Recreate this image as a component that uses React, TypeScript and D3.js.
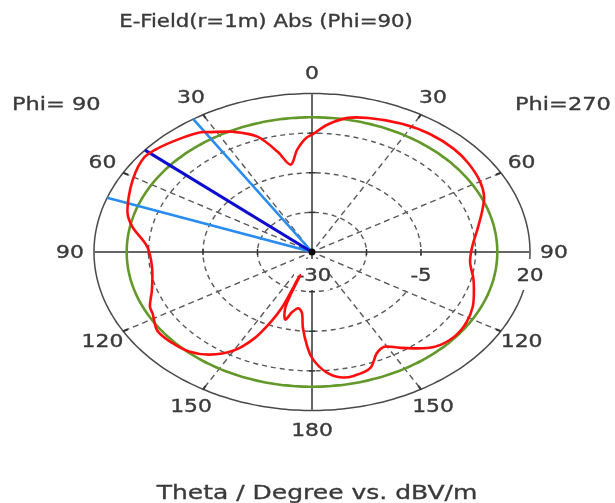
import React from "react";
import * as d3 from "d3";

// E-field |E| in dBV/m, phi = 270 (right half), theta in degrees
const phi270Theta = [0, 5, 11, 17, 27, 36, 45, 52, 60, 66, 72, 79, 88, 95, 103, 110, 115, 122, 129, 137, 146, 151, 155, 160, 166, 170, 175, 180];
const phi270Abs = [7.0, 10.3, 13.1, 14.2, 15.4, 16.0, 16.0, 15.5, 14.5, 13.2, 11.0, 8.7, 6.7, 6.4, 8.0, 9.5, 10.7, 11.8, 12.2, 11.0, 6.5, 4.2, 5.2, 9.0, 10.2, 10.2, 8.1, 3.4];

// phi = 90 (left half)
const phi90Theta = [0, 2, 6, 10, 14, 19, 25.5, 32, 34, 40, 48, 52, 61, 74, 79, 87.6, 97.4, 108, 115, 118, 125, 132, 138, 144, 150, 154, 157, 158.5, 159.6, 161, 164, 166.5, 170, 173, 175, 178, 180];
const phi90Abs = [7.0, 6.1, 2.5, -2.0, 2.6, 8.5, 12.0, 14.6, 15.6, 16.8, 18.3, 18.7, 17.0, 14.0, 12.0, 7.8, 7.0, 8.6, 11.0, 11.4, 13.3, 13.0, 12.2, 10.0, 5.9, 0.5, -6.5, -11, -22.2, -11, -7.8, -10.5, -12, -10.8, -6, 0, 3.4];

// reference level (green circle)
const refLevel = 12.5;

// main lobe and 3 dB angular width (phi = 90 side)
const mainLobeTheta = 50;
const beamEdgeTheta = [33, 70];

const radialTicks = [-30, -17.5, -5, 7.5, 20];
const radialLabels = [-30, -5, 20];
const angleTicks = [0, 30, 60, 90, 120, 150, 180];

const title = "E-Field(r=1m) Abs (Phi=90)";
const xTitle = "Theta / Degree vs. dBV/m";

const W = 615;
const H = 503;
const cx = 312;
const cy = 252;
const rx = 218;
const ry = 158.5;
const FONT = "DejaVu Sans, Verdana, sans-serif";
const SX = 1.25;
const TXT = "#3a3a3a";

const rScale = d3.scaleLinear().domain([-30, 20]).range([0, 1]);
const xs = d3.scaleLinear().domain([-1, 1]).range([cx - rx, cx + rx]);
const ys = d3.scaleLinear().domain([-1, 1]).range([cy + ry, cy - ry]);

const rad = (deg: number) => (deg * Math.PI) / 180;
// a: screen angle, clockwise from top
const pt = (a: number, r: number): [number, number] => [xs(r * Math.sin(rad(a))), ys(r * Math.cos(rad(a)))];

const ellipse = (r: number) => {
  const pts = d3.range(0, 360, 2).map((a) => pt(a, r));
  return d3.line().curve(d3.curveCardinalClosed)(pts) || "";
};

const Txt = ({ x, y, size, anchor = "middle", children }: any) => (
  <text
    transform={`translate(${x},${y}) scale(${SX},1)`}
    textAnchor={anchor}
    dominantBaseline="central"
    fontFamily={FONT}
    fontSize={size}
    fill={TXT}
    stroke={TXT}
    strokeWidth={0.35}
  >
    {children}
  </text>
);

export default function App() {
  const curvePts: [number, number][] = [
    ...phi270Theta.map((t, i) => pt(t, rScale(phi270Abs[i]))),
    ...phi90Theta
      .map((t, i) => pt(360 - t, rScale(phi90Abs[i])))
      .reverse()
      .slice(1, -1),
  ];
  const curvePath = d3.line().curve(d3.curveCatmullRomClosed.alpha(0.5))(curvePts) || "";

  const spokes = [30, 60, 120, 150, 210, 240, 300, 330];
  const outerTicks = d3.range(0, 360, 30);

  return (
    <svg
      width={W}
      height={H}
      style={{ position: "absolute", left: 0, top: 0, display: "block", background: "#fff" }}
    >
      <defs>
        <filter id="soft" x="-5%" y="-5%" width="110%" height="110%">
          <feGaussianBlur stdDeviation="0.35" />
        </filter>
      </defs>
      <g filter="url(#soft)">
        <Txt x={266} y={21} size={17}>{title}</Txt>

        {/* dashed grid */}
        {radialTicks.slice(1, -1).map((v) => (
          <path key={v} d={ellipse(rScale(v))} fill="none" stroke="#5a5a5a" strokeWidth={1.4} strokeDasharray="5,4" />
        ))}
        {spokes.map((a) => {
          const [x1, y1] = pt(a, 0.04);
          const [x2, y2] = pt(a, 0.98);
          return <line key={a} x1={x1} y1={y1} x2={x2} y2={y2} stroke="#5a5a5a" strokeWidth={1.4} strokeDasharray="6,4" />;
        })}

        {/* outer boundary */}
        <path d={ellipse(1)} fill="none" stroke="#4a4a4a" strokeWidth={1.5} />
        {outerTicks.map((a) => {
          const [x1, y1] = pt(a, 1);
          const [x2, y2] = pt(a, 0.975);
          return <line key={a} x1={x1} y1={y1} x2={x2} y2={y2} stroke="#333" strokeWidth={2} />;
        })}

        {/* axes */}
        <line x1={xs(-1)} y1={cy} x2={xs(1)} y2={cy} stroke="#666" strokeWidth={2} />
        <line x1={cx} y1={ys(1)} x2={cx} y2={ys(-1)} stroke="#666" strokeWidth={2} />
        {radialTicks.slice(1, -1).map((v) => {
          const r = rScale(v);
          return (
            <g key={v} stroke="#333" strokeWidth={1.5}>
              <line x1={xs(r)} y1={cy - 3} x2={xs(r)} y2={cy + 3} />
              <line x1={xs(-r)} y1={cy - 3} x2={xs(-r)} y2={cy + 3} />
              <line x1={cx - 3} y1={ys(r)} x2={cx + 3} y2={ys(r)} />
              <line x1={cx - 3} y1={ys(-r)} x2={cx + 3} y2={ys(-r)} />
            </g>
          );
        })}

        {/* radial labels */}
        {radialLabels.map((v) => {
          const x = xs(rScale(v));
          return (
            <g key={v}>
              <rect x={x - 18} y={cy + 7} width={36} height={31} fill="#fff" />
              <Txt x={x + (v === -30 ? 2 : 0)} y={cy + 23} size={17}>{v}</Txt>
            </g>
          );
        })}

        {/* reference circle */}
        <path d={ellipse(rScale(refLevel))} fill="none" stroke="#64992c" strokeWidth={2.6} />

        {/* beam lines */}
        {beamEdgeTheta.map((t) => {
          const [x2, y2] = pt(360 - t, 1);
          return <line key={t} x1={cx} y1={cy} x2={x2} y2={y2} stroke="#2a8cf0" strokeWidth={2.6} />;
        })}
        {(() => {
          const [x2, y2] = pt(360 - mainLobeTheta, 1);
          return <line x1={cx} y1={cy} x2={x2} y2={y2} stroke="#1010d0" strokeWidth={3} />;
        })()}

        {/* field pattern */}
        <path d={curvePath} fill="none" stroke="#ff1010" strokeWidth={2.6} strokeLinejoin="round" />
        <circle cx={cx} cy={cy} r={3.5} fill="#111" />

        {/* angle labels */}
        {angleTicks.map((t) => {
          const right = pt(t, 1);
          const dx = Math.sin(rad(t)) * 24;
          const dy = -Math.cos(rad(t)) * 20;
          const lx = right[0] - cx;
          return (
            <g key={t}>
              <Txt x={cx + lx + dx} y={right[1] + dy} size={17.5}>{t}</Txt>
              {t > 0 && t < 180 && <Txt x={cx - lx - dx} y={right[1] + dy} size={17.5}>{t}</Txt>}
            </g>
          );
        })}

        <Txt x={12} y={104} size={18} anchor="start">Phi= 90</Txt>
        <Txt x={515} y={104} size={18} anchor="start">Phi=270</Txt>

        <Txt x={317} y={492} size={20}>{xTitle}</Txt>
      </g>
    </svg>
  );
}
